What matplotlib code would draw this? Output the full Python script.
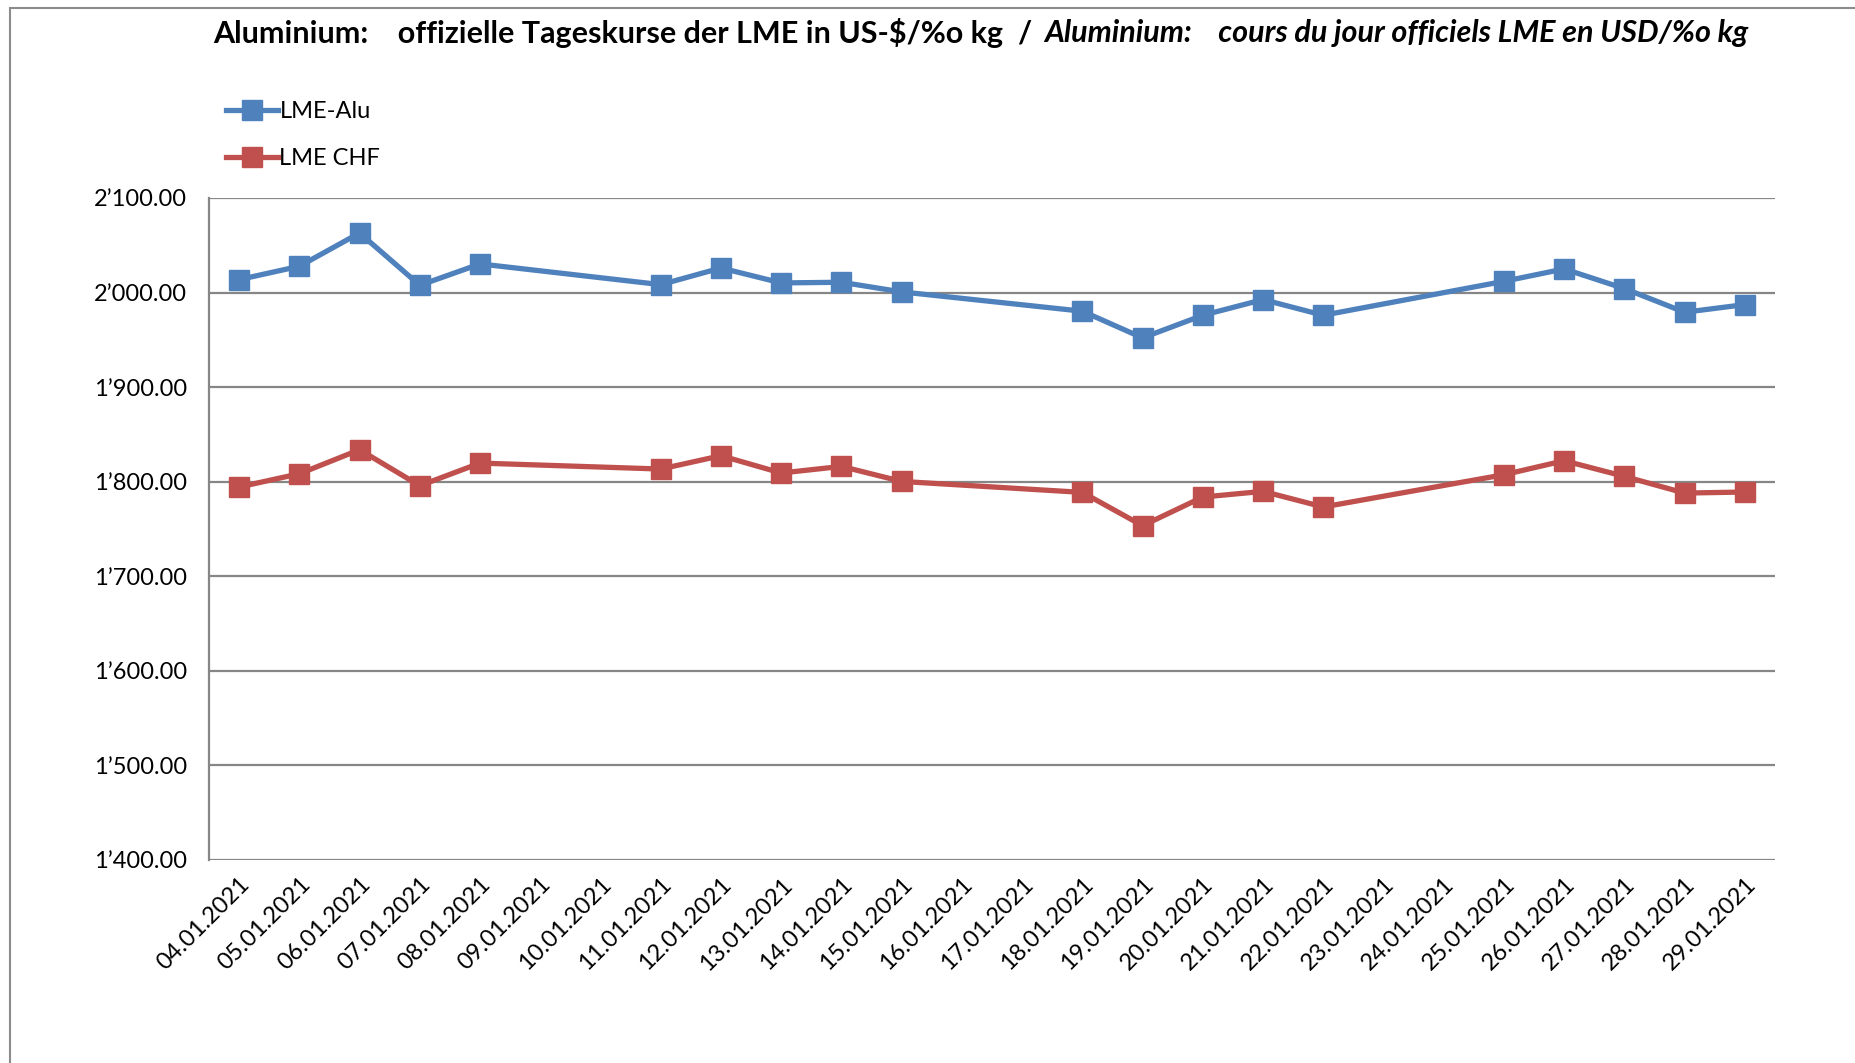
import numpy as np
import matplotlib.pyplot as plt
from matplotlib.ticker import FuncFormatter
from matplotlib.patches import Rectangle

plt.rcParams['font.family'] = ['Lato', 'DejaVu Sans']

# trading days of January 2021 (weekends have no value)
dates = ["04.01.2021", "05.01.2021", "06.01.2021", "07.01.2021", "08.01.2021",
         "09.01.2021", "10.01.2021", "11.01.2021", "12.01.2021", "13.01.2021",
         "14.01.2021", "15.01.2021", "16.01.2021", "17.01.2021", "18.01.2021",
         "19.01.2021", "20.01.2021", "21.01.2021", "22.01.2021", "23.01.2021",
         "24.01.2021", "25.01.2021", "26.01.2021", "27.01.2021", "28.01.2021",
         "29.01.2021"]
nan = np.nan
lme_alu = [2013.7, 2027.8, 2063.0, 2007.7, 2030.3, nan, nan, 2008.4, 2026.0, 2010.2,
           2010.9, 2000.7, nan, nan, 1980.3, 1952.1, 1976.0, 1992.6, 1976.0, nan,
           nan, 2011.9, 2025.0, 2004.2, 1979.2, 1987.3]
lme_chf = [1794.4, 1808.4, 1833.8, 1795.8, 1819.7, nan, nan, 1813.4, 1827.5, 1809.2,
           1816.2, 1800.3, nan, nan, 1788.7, 1753.5, 1783.8, 1789.8, 1773.3, nan,
           nan, 1807.4, 1822.2, 1805.6, 1788.0, 1789.1]
yticks = [1400, 1500, 1600, 1700, 1800, 1900, 2000, 2100]

blue = '#4F81BD'
red = '#C0504D'
grid = '#868686'

W, H = 1856, 1063
fig = plt.figure(figsize=(W / 100, H / 100), dpi=100)
# plot area in pixels: left 209, right 1775, top 198, bottom 860
ax = fig.add_axes([209 / W, 1 - 860 / H, (1775 - 209) / W, (860 - 198) / H])

x = np.arange(len(dates))
# connect across empty days like the spreadsheet does
for vals, col, lab in [(lme_alu, blue, 'LME-Alu'), (lme_chf, red, 'LME CHF')]:
    v = np.array(vals)
    m = ~np.isnan(v)
    ax.plot(x[m], v[m], color=col, lw=3.8, marker='s', markersize=14,
            label=lab, solid_joinstyle='round')

ax.set_xlim(-0.5, len(dates) - 0.5)
ax.set_ylim(1400, 2100)
ax.set_yticks(yticks)
ax.yaxis.set_major_formatter(FuncFormatter(
    lambda v, p: '{:,.2f}'.format(v).replace(',', '\u2019')))
ax.set_xticks(x)
ax.set_xticklabels(dates, rotation=45, ha='right', rotation_mode='anchor')
ax.tick_params(axis='both', length=0, labelsize=17)
ax.tick_params(axis='y', pad=16)
ax.tick_params(axis='x', pad=10)
ax.grid(axis='y', color=grid, lw=1.6)
ax.set_axisbelow(True)
for s in ['top', 'right', 'bottom']:
    ax.spines[s].set_visible(False)
ax.spines['left'].set_color(grid)
ax.spines['left'].set_linewidth(1.6)

leg = fig.legend(loc='upper left', bbox_to_anchor=(205 / W, 1 - 80 / H),
                 frameon=False, fontsize=17, handlelength=2.2,
                 handletextpad=0.05, labelspacing=1.1)

# title: German part upright, French part italic
ty = 1 - 33 / H
fig.text(1003 / W, ty, 'Aluminium:    offizielle Tageskurse der LME in US-$/%o kg',
         ha='right', va='center', fontsize=22, fontweight='bold')
fig.text(1024 / W, ty, '/', ha='center', va='center', fontsize=22,
         fontweight='bold')
fig.text(1044 / W, ty, 'Aluminium:    cours du jour officiels LME en USD/%o kg',
         ha='left', va='center', fontsize=22, fontweight='bold', style='italic')

# chart frame (cut off at the right and bottom)
fig.patches.append(Rectangle((10.5 / W, -0.1), 1.2, 1.1 - 8 / H,
                             transform=fig.transFigure, fill=False,
                             edgecolor='#8C8C8C', lw=1.5))

fig.savefig('out.png', dpi=100)
